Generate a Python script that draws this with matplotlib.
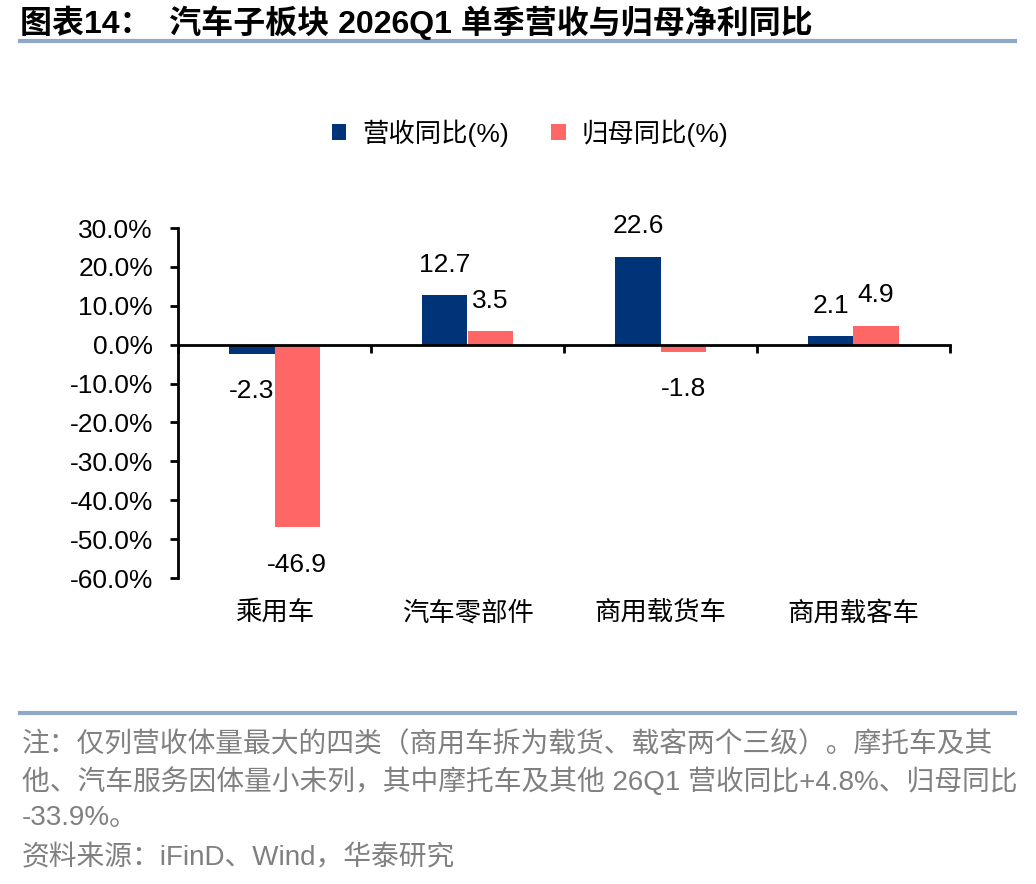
import matplotlib
matplotlib.use("Agg")
import matplotlib.pyplot as plt
import numpy as np

plt.rcParams['font.family'] = ['Liberation Sans', 'Noto Sans CJK SC']
plt.rcParams['axes.unicode_minus'] = False

categories = ["乘用车", "汽车零部件", "商用载货车", "商用载客车"]
revenue_yoy = [-2.3, 12.7, 22.6, 2.1]
profit_yoy = [-46.9, 3.5, -1.8, 4.9]
series_names = ["营收同比(%)", "归母同比(%)"]
yticks = [30, 20, 10, 0, -10, -20, -30, -40, -50, -60]

title = "图表14：  汽车子板块 2026Q1 单季营收与归母净利同比"
note_lines = [
    "注：仅列营收体量最大的四类（商用车拆为载货、载客两个三级）。摩托车及其",
    "他、汽车服务因体量小未列，其中摩托车及其他 26Q1 营收同比+4.8%、归母同比",
    "-33.9%。",
    "资料来源：iFinD、Wind，华泰研究",
]

blue = '#003478'
pink = '#FF6666'
line_col = '#8EA8C6'

fig = plt.figure(figsize=(10.36, 8.84), dpi=100)

# title and separator lines
fig.text(20 / 1036, 1 - 33 / 884, title, fontsize=23, fontweight='bold',
         va='baseline', ha='left', color='black')
fig.add_artist(plt.Line2D([20 / 1036, 1015 / 1036], [1 - 41 / 884] * 2,
                          color=line_col, lw=3))
fig.add_artist(plt.Line2D([20 / 1036, 1015 / 1036], [1 - 713 / 884] * 2,
                          color=line_col, lw=3))

ax = fig.add_axes([178 / 1036, 1 - 578 / 884, (950 - 178) / 1036, (578 - 228) / 884])

x = np.arange(len(categories))
w = 0.235
b1 = ax.bar(x - w / 2, revenue_yoy, w, color=blue, label=series_names[0])
b2 = ax.bar(x + w / 2, profit_yoy, w, color=pink, label=series_names[1])

for bars, vals in [(b1, revenue_yoy), (b2, profit_yoy)]:
    for rect, v in zip(bars, vals):
        xc = rect.get_x() + rect.get_width() / 2
        off = 22 if v >= 0 else -27
        ax.annotate(f"{v:.1f}", (xc, v), xytext=(0, off), textcoords='offset points',
                    ha='center', va='center', fontsize=19)

ax.set_xlim(-0.5, 3.5)
ax.set_ylim(-60, 30)
ax.set_yticks(yticks)
ax.set_yticklabels([f"{t:.1f}%" for t in yticks])
ax.tick_params(axis='y', direction='out', length=6, width=2, labelsize=19, pad=12)

ax.spines['top'].set_visible(False)
ax.spines['right'].set_visible(False)
ax.spines['left'].set_linewidth(2)
ax.spines['bottom'].set_linewidth(2)
ax.spines['bottom'].set_position(('data', 0))

ax.set_xticks(x)
ax.set_xticklabels([])
ax.tick_params(axis='x', which='major', length=0)
ax.set_xticks(np.arange(-0.5, 4.0, 1.0), minor=True)
ax.tick_params(axis='x', which='minor', direction='out', length=6, width=2)

for i, c in enumerate(categories):
    ax.annotate(c, (i, -60), xytext=(0, -25), textcoords='offset points',
                ha='center', va='center', fontsize=19)

fig.legend(handles=[b1, b2], labels=series_names, loc='center',
           bbox_to_anchor=(530 / 1036, 1 - 133 / 884), ncol=2, frameon=False,
           fontsize=19, handlelength=0.55, handleheight=0.55, columnspacing=1.6,
           handletextpad=0.6)

note_y = [745, 782, 818, 858]
for txt, yy in zip(note_lines, note_y):
    fig.text(22 / 1036, 1 - yy / 884, txt, fontsize=20, color='#808080',
             ha='left', va='center')

fig.savefig('out.png', dpi=100)
